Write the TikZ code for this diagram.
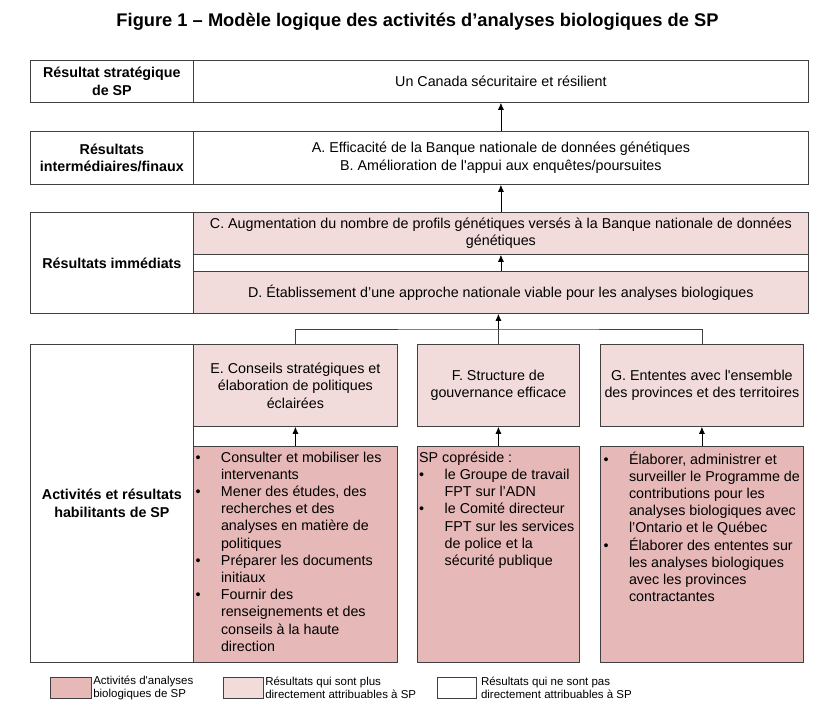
\documentclass[tikz,border=0pt]{standalone}
\usepackage{fontspec}
\setmainfont{Liberation Sans}
\usepackage{tikz}
\usetikzlibrary{arrows.meta}

\definecolor{actfill}{HTML}{E6B9B8}
\definecolor{resfill}{HTML}{F2DCDB}
\definecolor{edge}{HTML}{404040}

\newcommand{\itm}{\makebox[25.5pt][l]{\textbullet}}
\newcommand{\cnt}{\hspace*{25.5pt}}

\begin{document}
\begin{tikzpicture}[x=1pt,y=-1pt,
	box/.style={draw=edge, line width=0.8pt, anchor=north west, inner sep=0pt, align=center},
	lbl/.style={box, font=\bfseries\fontsize{14.3}{17.5}\selectfont},
	txt/.style={box, font=\fontsize{14.3}{17.5}\selectfont},
	act/.style={anchor=north west, inner sep=0pt, align=left, font=\fontsize{14.3}{17.2}\selectfont},
	leg/.style={anchor=west, inner sep=0pt, align=left, font=\fontsize{11.5}{13.3}\selectfont},
	up/.style={draw=black, line width=0.8pt, -{Latex[length=7pt,width=6pt]}}]
		\useasboundingbox[fill=white] (0,0) rectangle (831,714);
		
		\node[font=\bfseries\fontsize{18.3}{22}\selectfont] (title) at (417.5,22) {Figure 1 – Modèle logique des activités d’analyses biologiques de SP};
		
		% resultat strategique
		\node[lbl, minimum width=163, minimum height=42] (lblso) at (30,60) {Résultat stratégique\\de SP};
		\node[txt, minimum width=615, minimum height=42] (so) at (193,60) {Un Canada sécuritaire et résilient};
		
		% resultats intermediaires/finaux
		\node[lbl, minimum width=163, minimum height=53] (lblif) at (30,131) {Résultats\\intermédiaires/finaux};
		\node[txt, minimum width=615, minimum height=53] (ab) at (193,131) {A. Efficacité de la Banque nationale de données génétiques\\B. Amélioration de l\textquotesingle appui aux enquêtes/poursuites};
		
		% resultats immediats
		\node[lbl, minimum width=163, minimum height=101] (lblim) at (30,212) {Résultats immédiats};
		\node[box, minimum width=615, minimum height=101] (imm) at (193,212) {};
		\node[txt, fill=resfill, minimum width=615, minimum height=42] (c) at (193,212) {C. Augmentation du nombre de profils génétiques versés à la Banque nationale de données\\génétiques};
		\node[txt, fill=resfill, minimum width=615, minimum height=42] (d) at (193,271) {D. Établissement d’une approche nationale viable pour les analyses biologiques};
		
		% activites et resultats habilitants
		\node[lbl, minimum width=163, minimum height=318] (lblact) at (30,344) {Activités et résultats\\habilitants de SP};
		\node[txt, fill=resfill, minimum width=204, minimum height=82] (e) at (193,344) {E. Conseils stratégiques et\\élaboration de politiques\\éclairées};
		\node[txt, fill=resfill, minimum width=162, minimum height=82] (f) at (417,344) {F. Structure de\\gouvernance efficace};
		\node[txt, fill=resfill, minimum width=203, minimum height=82] (g) at (600,344) {G. Ententes avec l\textquotesingle ensemble\\des provinces et des territoires};
		
		\node[box, fill=actfill, minimum width=204, minimum height=216] (ae) at (193,446) {};
		\node[box, fill=actfill, minimum width=162, minimum height=216] (af) at (417,446) {};
		\node[box, fill=actfill, minimum width=203, minimum height=216] (ag) at (600,446) {};
		
		\node[act] (aetxt) at ([xshift=2.3pt,yshift=-5.5pt]ae.north west) {\itm Consulter et mobiliser les\\
			\cnt intervenants\\
			\itm Mener des études, des\\
			\cnt recherches et des\\
			\cnt analyses en matière de\\
			\cnt politiques\\
			\itm Préparer les documents\\
			\cnt initiaux\\
			\itm Fournir des\\
			\cnt renseignements et des\\
			\cnt conseils à la haute\\
			\cnt direction};
		\node[act] (aftxt) at ([xshift=2pt,yshift=-5.5pt]af.north west) {SP copréside~:\\
			\itm le Groupe de travail\\
			\cnt FPT sur l’ADN\\
			\itm le Comité directeur\\
			\cnt FPT sur les services\\
			\cnt de police et la\\
			\cnt sécurité publique};
		\node[act] (agtxt) at ([xshift=3.3pt,yshift=-5.5pt]ag.north west) {\itm Élaborer, administrer et\\
			\cnt surveiller le Programme de\\
			\cnt contributions pour les\\
			\cnt analyses biologiques avec\\
			\cnt l’Ontario et le Québec\\
			\itm Élaborer des ententes sur\\
			\cnt les analyses biologiques\\
			\cnt avec les provinces\\
			\cnt contractantes};
		
		% connecteurs
		\draw[up] (ab.north) -- (so.south);
		\draw[up] (c.north) -- (ab.south);
		\draw[up] (d.north) -- (c.south);
		\coordinate (jn) at (f.north |- 0,329);
		\draw[draw=edge, line width=0.8pt] (e.north) |- (jn) -| (g.north);
		\draw[draw=edge, line width=0.8pt] (f.north) -- (jn);
		\draw[up] (jn) -- (d.south -| jn);
		\draw[up] (ae.north) -- (e.south);
		\draw[up] (af.north) -- (f.south);
		\draw[up] (ag.north) -- (g.south);
		
		% legende
		\node[box, fill=actfill, minimum width=41, minimum height=21] (legact) at (50,677) {};
		\node[leg] (legacttxt) at ([xshift=1.3pt]legact.east) {Activités d\textquotesingle analyses\\biologiques de SP};
		\node[box, fill=resfill, minimum width=40, minimum height=21] (legres) at (223,677) {};
		\node[leg] (legrestxt) at ([xshift=1.3pt]legres.east) {Résultats qui sont plus\\directement attribuables à SP};
		\node[box, minimum width=39, minimum height=21] (legnot) at (437,677) {};
		\node[leg] (legnottxt) at ([xshift=4pt]legnot.east) {Résultats qui ne sont pas\\directement attribuables à SP};
	\end{tikzpicture}
\end{document}
